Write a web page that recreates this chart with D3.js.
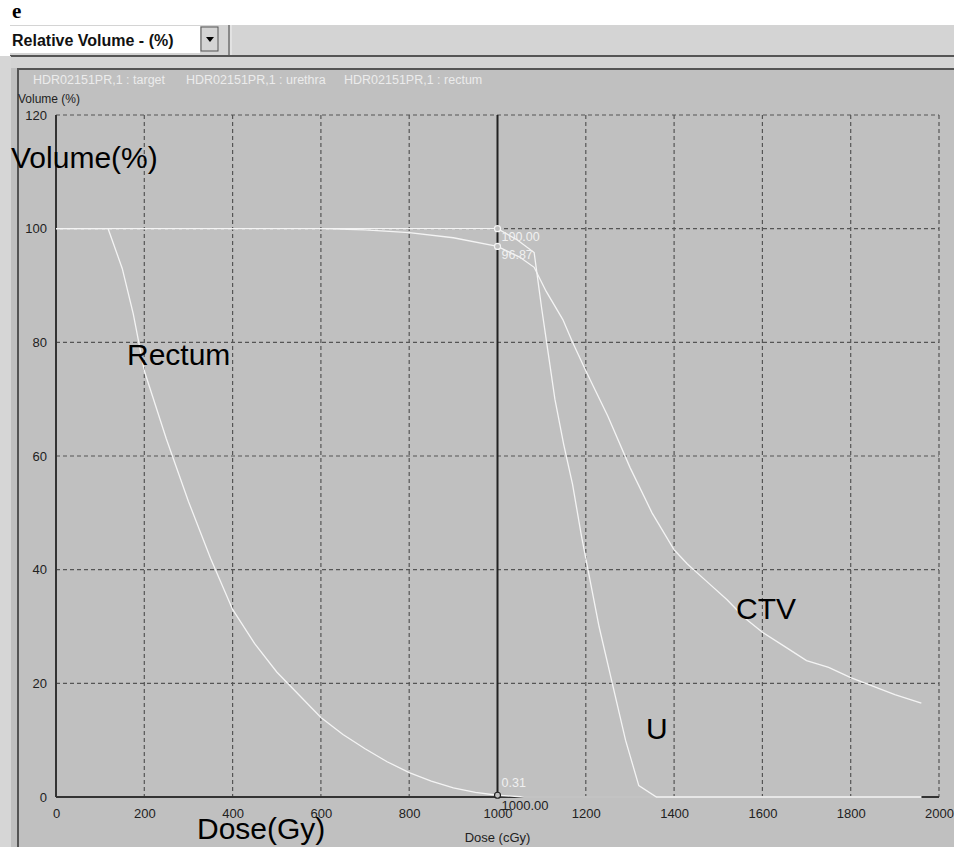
<!DOCTYPE html>
<html>
<head>
<meta charset="utf-8">
<script src="https://cdn.jsdelivr.net/npm/d3@7"></script>
<style>
  body { margin: 0; background: #fff; }
  text { font-family: "Liberation Sans", Arial, sans-serif; }
</style>
</head>
<body>
<script>
// tick values
const doseTicks = [0, 200, 400, 600, 800, 1000, 1200, 1400, 1600, 1800, 2000];
const volTicks = [0, 20, 40, 60, 80, 100, 120];

// DVH curves, dose (cGy) / volume (%)
const ctvDose = [0, 600, 700, 800, 900, 1000, 1050, 1083, 1110, 1148, 1170, 1200, 1250, 1300, 1350, 1400, 1430, 1480, 1520, 1560, 1600, 1650, 1700, 1750, 1800, 1850, 1900, 1960];
const ctvVol  = [100, 100, 99.8, 99.3, 98.4, 96.87, 95, 93.2, 89, 84, 80, 75, 67, 58, 50, 43.5, 41, 37.5, 34.7, 31.5, 29, 26.5, 24, 22.8, 21, 19.5, 18, 16.5];

const urethraDose = [0, 1000, 1045, 1083, 1100, 1115, 1130, 1150, 1170, 1190, 1210, 1230, 1260, 1290, 1320, 1360, 1960];
const urethraVol  = [100, 100, 98, 95.8, 86, 78, 70, 62, 55, 46, 38, 30, 20, 10, 2, 0, 0];

const rectumDose = [0, 118, 150, 175, 200, 250, 300, 350, 400, 450, 500, 550, 600, 650, 700, 750, 800, 850, 900, 950, 1000, 1060, 1960];
const rectumVol  = [100, 100, 93, 85, 75, 63, 52, 42, 33, 27, 22, 18, 14, 11, 8.5, 6.2, 4.3, 2.8, 1.6, 0.8, 0.31, 0, 0];

// cursor readout at 1000 cGy
const cursorDose = 1000;
const cursorVals = [100, 96.87, 0.31];
const cursorLabels = ["100.00", "96.87", "0.31"];

const legendNames = ["HDR02151PR,1 : target", "HDR02151PR,1 : urethra", "HDR02151PR,1 : rectum"];

const W = 954, H = 847;
const svg = d3.select('body').append('svg')
    .attr('width', W)
    .attr('height', H);

// window chrome
svg.append('rect').attr('x', 0).attr('y', 0).attr('width', W).attr('height', H).attr('fill', '#fff');
svg.append('text').attr('x', 12).attr('y', 18)
    .style('font-family', '"Liberation Serif", "DejaVu Serif", serif').style('font-weight', 'bold').style('font-size', '21px')
    .text('e');
svg.append('rect').attr('x', 10).attr('y', 25).attr('width', W - 10).attr('height', 31).attr('fill', '#d4d4d4');
svg.append('rect').attr('x', 10).attr('y', 26).attr('width', 190).attr('height', 27).attr('fill', '#fff');
svg.append('text').attr('x', 12).attr('y', 46)
    .style('font-weight', 'bold').style('font-size', '16px').attr('fill', '#111')
    .text('Relative Volume - (%)');
svg.append('rect').attr('x', 201).attr('y', 27).attr('width', 17).attr('height', 24)
    .attr('fill', '#d4d4d4').attr('stroke', '#555').attr('stroke-width', 1);
svg.append('path').attr('d', 'M206,37 L214,37 L210,42 Z').attr('fill', '#000');
svg.append('line').attr('x1', 229).attr('x2', 229).attr('y1', 25).attr('y2', 55).attr('stroke', '#888').attr('stroke-width', 2);
svg.append('line').attr('x1', 231).attr('x2', 231).attr('y1', 25).attr('y2', 55).attr('stroke', '#f0f0f0').attr('stroke-width', 1);
svg.append('rect').attr('x', 10).attr('y', 55).attr('width', W - 10).attr('height', 2).attr('fill', '#555');
svg.append('rect').attr('x', 10).attr('y', 57).attr('width', W - 10).attr('height', 11).attr('fill', '#d4d4d4');
svg.append('rect').attr('x', 0).attr('y', 56).attr('width', 11).attr('height', H - 56).attr('fill', '#d6d6d6');
svg.append('rect').attr('x', 11).attr('y', 68).attr('width', W - 11).attr('height', H - 68).attr('fill', '#c0c0c0');
svg.append('rect').attr('x', 17).attr('y', 68).attr('width', W - 17).attr('height', 2).attr('fill', '#555');
svg.append('rect').attr('x', 17).attr('y', 68).attr('width', 2).attr('height', H - 68).attr('fill', '#555');

// legend
const legendX = [33, 186, 344];
svg.append('g').selectAll('text')
    .data(legendNames)
    .enter()
    .append('text')
      .attr('x', (d, i) => legendX[i])
      .attr('y', 84)
      .attr('fill', '#ececec')
      .style('font-size', '12.5px')
      .text(d => d);

svg.append('text').attr('x', 18).attr('y', 103)
    .attr('fill', '#222').style('font-size', '12px')
    .text('Volume (%)');

const x = d3.scaleLinear().domain([0, 2000]).range([56, 939]);
const y = d3.scaleLinear().domain([0, 120]).range([797, 115]);

// grid
const grid = svg.append('g').attr('stroke', '#555').attr('stroke-width', 1.2).attr('stroke-dasharray', '4,3');
grid.selectAll('.vg')
    .data(doseTicks.filter(d => d > 0 && d !== cursorDose))
    .enter()
    .append('line')
      .attr('x1', d => x(d)).attr('x2', d => x(d))
      .attr('y1', y(120)).attr('y2', y(0));
grid.selectAll('.hg')
    .data(volTicks.filter(d => d > 0))
    .enter()
    .append('line')
      .attr('x1', x(0)).attr('x2', x(2000))
      .attr('y1', d => y(d)).attr('y2', d => y(d));

// axes
const xAxis = svg.append('g')
    .attr('transform', `translate(0, ${y(0)})`)
    .call(d3.axisBottom(x).tickValues(doseTicks).tickSize(0).tickPadding(12).tickFormat(d3.format('d')));
const yAxis = svg.append('g')
    .attr('transform', `translate(${x(0)}, 0)`)
    .call(d3.axisLeft(y).tickValues(volTicks).tickSize(0).tickPadding(9).tickFormat(d3.format('d')));
[xAxis, yAxis].forEach(a => {
  a.select('.domain').attr('stroke', '#333').attr('stroke-width', 2);
  a.selectAll('text').attr('fill', '#222').style('font-size', '13px').style('font-family', '"Liberation Sans", Arial, sans-serif');
});
xAxis.select('.domain').attr('d', `M${x(0)},0H${x(2000)}`);
yAxis.select('.domain').attr('d', `M0,${y(0)}V${y(120)}`);

// cursor line
svg.append('line')
    .attr('x1', x(cursorDose)).attr('x2', x(cursorDose))
    .attr('y1', y(120)).attr('y2', y(0))
    .attr('stroke', '#222').attr('stroke-width', 2);

// curves
const line = d3.line().x(d => x(d[0])).y(d => y(d[1]));
const curves = [
  d3.zip(ctvDose, ctvVol),
  d3.zip(urethraDose, urethraVol),
  d3.zip(rectumDose, rectumVol)
];
svg.append('g').selectAll('path')
    .data(curves)
    .enter()
    .append('path')
      .attr('d', line)
      .attr('fill', 'none')
      .attr('stroke', '#f4f4f4')
      .attr('stroke-width', 1.3);

// cursor markers + values
svg.append('g').selectAll('circle')
    .data(cursorVals)
    .enter()
    .append('circle')
      .attr('cx', x(cursorDose))
      .attr('cy', d => y(d))
      .attr('r', 3)
      .attr('fill', '#c0c0c0')
      .attr('stroke', (d, i) => i === 2 ? '#222' : '#f4f4f4')
      .attr('stroke-width', 1.2);
const labelY = [241, 259, 787];
svg.append('g').selectAll('text')
    .data(cursorLabels)
    .enter()
    .append('text')
      .attr('x', x(cursorDose) + 4)
      .attr('y', (d, i) => labelY[i])
      .attr('fill', '#f0f0f0')
      .style('font-size', '12.5px')
      .text(d => d);
svg.append('text').attr('x', x(cursorDose) + 4).attr('y', 810)
    .attr('fill', '#222').style('font-size', '13px')
    .text('1000.00');

svg.append('text').attr('x', x(cursorDose)).attr('y', 842)
    .attr('text-anchor', 'middle').attr('fill', '#222').style('font-size', '13px')
    .text('Dose (cGy)');

// big annotations
const notes = [
  { t: 'Volume(%)', x: 11, y: 168 },
  { t: 'Dose(Gy)', x: 197, y: 839 },
  { t: 'Rectum', x: 127, y: 365 },
  { t: 'CTV', x: 736, y: 619 },
  { t: 'U', x: 646, y: 739 }
];
svg.append('g').selectAll('text')
    .data(notes)
    .enter()
    .append('text')
      .attr('x', d => d.x)
      .attr('y', d => d.y)
      .attr('fill', '#000')
      .style('font-size', '30px')
      .text(d => d.t);
</script>
</body>
</html>
